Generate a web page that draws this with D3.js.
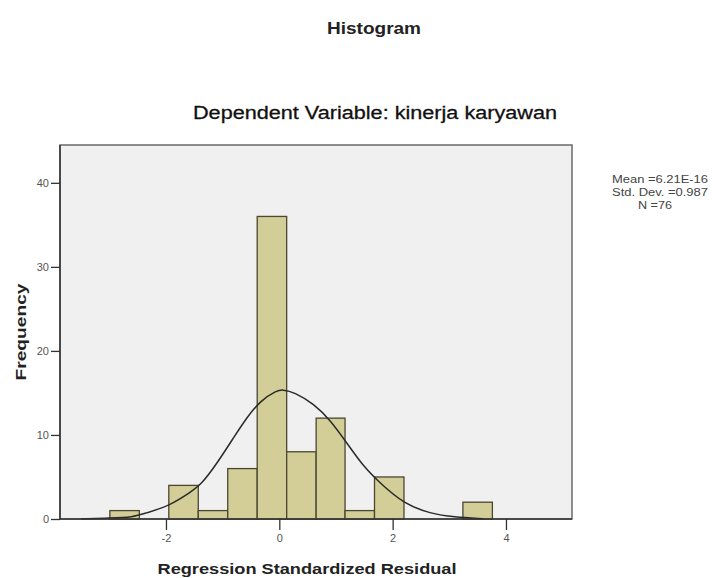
<!DOCTYPE html>
<html lang="en">
<head>
    <meta charset="UTF-8">
    <title>Histogram</title>
    <script src="https://d3js.org/d3.v7.min.js"></script>
    <style type="text/css">
        body {
            margin: 0;
            background-color: #ffffff;
            font-family: "Liberation Sans", Arial, sans-serif;
        }
        svg {
            display: block;
        }
    </style>
</head>
<body>
    <div id="chart"></div>

    <script type="text/javascript">
        // Histogram bins
        const binEdges = [-2.99, -2.47, -1.95, -1.43, -0.91, -0.39, 0.13, 0.65, 1.16, 1.68, 2.20, 2.72, 3.24, 3.76];
        const counts   = [1, 0, 4, 1, 6, 36, 8, 12, 1, 5, 0, 0, 2];

        // Normal curve, points
        const curveX = [-3.5, -3.0, -2.57, -2.39, -1.92, -1.57, -1.39, -1.10, -0.80, -0.57, -0.33, -0.04, 0.06, 0.26, 0.61, 0.91, 1.20, 1.49, 1.79, 2.20, 2.67, 3.08, 3.6];
        const curveY = [0.02, 0.1, 0.23, 0.63, 1.62, 3.2, 4.0, 6.6, 9.75, 12.1, 14.1, 15.3, 15.4, 15.1, 13.7, 11.7, 8.96, 6.2, 4.2, 1.8, 0.63, 0.23, 0.03];

        const xTicks = [-2, 0, 2, 4];
        const yTicks = [0, 10, 20, 30, 40];

        const legendLines = ['Mean =6.21E-16', 'Std. Dev. =0.987', 'N =76'];

        const width = 712, height = 578;
        const plot = {left: 60, right: 572, top: 145, bottom: 519};

        const svg = d3.select('#chart')
            .append('svg')
            .attr('width', width)
            .attr('height', height);

        const x = d3.scaleLinear()
            .domain([-3.87, 5.165])
            .range([plot.left, plot.right]);

        const y = d3.scaleLinear()
            .domain([0, 44.5])
            .range([plot.bottom, plot.top]);

        // Plot background
        svg.append('rect')
            .attr('x', plot.left)
            .attr('y', plot.top)
            .attr('width', plot.right - plot.left)
            .attr('height', plot.bottom - plot.top)
            .attr('fill', '#f0f0f0')
            .attr('stroke', '#6a6a6a')
            .attr('stroke-width', 1.5);

        // Bars
        const bins = counts.map((c, i) => ({x0: binEdges[i], x1: binEdges[i + 1], n: c}))
            .filter(d => d.n > 0);

        svg.selectAll('rect.bar')
            .data(bins)
            .enter()
            .append('rect')
            .attr('class', 'bar')
            .attr('x', d => x(d.x0))
            .attr('y', d => y(d.n))
            .attr('width', d => x(d.x1) - x(d.x0))
            .attr('height', d => y(0) - y(d.n))
            .attr('fill', '#d3ce97')
            .attr('stroke', '#4a4630')
            .attr('stroke-width', 1.3);

        // Normal curve
        const line = d3.line()
            .x(d => x(d[0]))
            .y(d => y(d[1]))
            .curve(d3.curveBasis);

        svg.append('path')
            .datum(curveX.map((v, i) => [v, curveY[i]]))
            .attr('d', line)
            .attr('fill', 'none')
            .attr('stroke', '#2a2a2a')
            .attr('stroke-width', 1.5);

        // Axes lines (left and bottom darker)
        svg.append('line')
            .attr('x1', plot.left).attr('x2', plot.left)
            .attr('y1', plot.top).attr('y2', plot.bottom)
            .attr('stroke', '#333').attr('stroke-width', 1.5);
        svg.append('line')
            .attr('x1', plot.left).attr('x2', plot.right)
            .attr('y1', plot.bottom).attr('y2', plot.bottom)
            .attr('stroke', '#333').attr('stroke-width', 1.5);

        // Y axis
        const yAxis = d3.axisLeft(y)
            .tickValues(yTicks)
            .tickSize(9)
            .tickPadding(2);
        const gy = svg.append('g')
            .attr('transform', `translate(${plot.left},0)`)
            .call(yAxis);
        gy.select('.domain').remove();
        gy.selectAll('line').attr('stroke', '#333').attr('stroke-width', 1.3);
        gy.selectAll('text')
            .attr('fill', '#555')
            .style('font-size', '11px')
            .style('font-family', '"Liberation Sans", Arial, sans-serif');

        // X axis
        const xAxis = d3.axisBottom(x)
            .tickValues(xTicks)
            .tickFormat(d3.format('d'))
            .tickSize(11)
            .tickPadding(4);
        const gx = svg.append('g')
            .attr('transform', `translate(0,${plot.bottom})`)
            .call(xAxis);
        gx.select('.domain').remove();
        gx.selectAll('line').attr('stroke', '#333').attr('stroke-width', 1.3);
        gx.selectAll('text')
            .attr('fill', '#555')
            .style('font-size', '11px')
            .style('font-family', '"Liberation Sans", Arial, sans-serif')
            .text(d => d < 0 ? '-' + Math.abs(d) : d);

        // Titles
        svg.append('text')
            .attr('x', 374)
            .attr('y', 34)
            .attr('text-anchor', 'middle')
            .attr('font-size', 17)
            .attr('font-weight', 'bold')
            .attr('fill', '#222')
            .attr('textLength', 94)
            .attr('lengthAdjust', 'spacingAndGlyphs')
            .text('Histogram');

        svg.append('text')
            .attr('x', 375)
            .attr('y', 119)
            .attr('text-anchor', 'middle')
            .attr('font-size', 18)
            .attr('fill', '#111')
            .attr('stroke', '#111')
            .attr('stroke-width', 0.3)
            .attr('textLength', 364)
            .attr('lengthAdjust', 'spacingAndGlyphs')
            .text('Dependent Variable: kinerja karyawan');

        svg.append('text')
            .attr('transform', 'translate(26,332) rotate(-90)')
            .attr('text-anchor', 'middle')
            .attr('font-size', 15)
            .attr('font-weight', 'bold')
            .attr('fill', '#222')
            .attr('textLength', 97)
            .attr('lengthAdjust', 'spacingAndGlyphs')
            .text('Frequency');

        svg.append('text')
            .attr('x', 307)
            .attr('y', 574)
            .attr('text-anchor', 'middle')
            .attr('font-size', 15)
            .attr('font-weight', 'bold')
            .attr('fill', '#222')
            .attr('textLength', 299)
            .attr('lengthAdjust', 'spacingAndGlyphs')
            .text('Regression Standardized Residual');

        // Legend text
        const legendX = [660, 660, 655];
        const legendWidths = [96, 96, 34];
        legendLines.forEach((t, i) => {
            svg.append('text')
                .attr('x', legendX[i])
                .attr('y', 183 + i * 13)
                .attr('text-anchor', 'middle')
                .attr('font-size', 10)
                .attr('fill', '#444')
                .attr('textLength', legendWidths[i])
                .attr('lengthAdjust', 'spacingAndGlyphs')
                .text(t);
        });
    </script>
</body>
</html>
